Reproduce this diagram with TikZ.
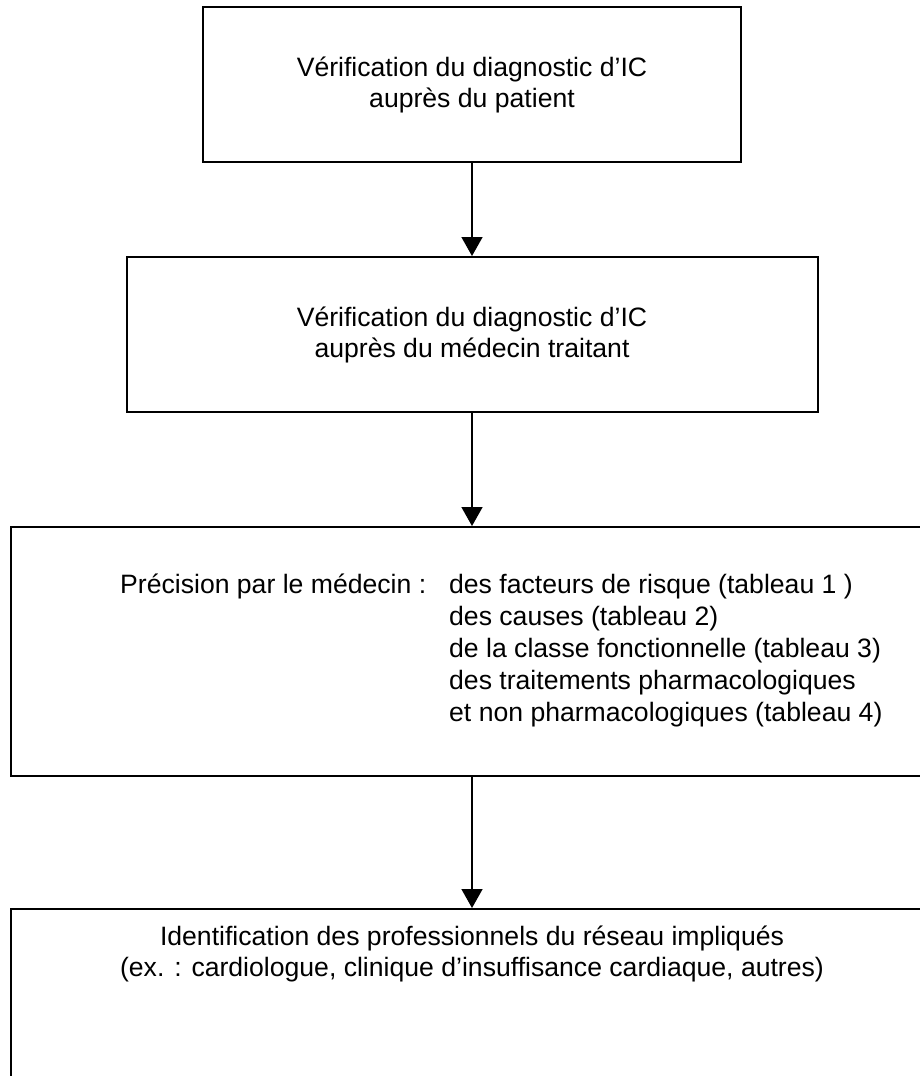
\documentclass[tikz,border=0pt]{standalone}
\usepackage{fontspec}
\setmainfont{Liberation Sans}
\usetikzlibrary{positioning}
\usetikzlibrary{arrows.meta}
\tikzstyle{textonly} = [draw=none, fill=none, inner sep=0pt]
\tikzstyle{stage} = [rectangle, draw, line width=2pt, align=center, text centered, inner sep=0pt]
\tikzstyle{flow} = [draw, line width=1.6pt, -{Triangle[width=21pt,length=19pt]}]

\begin{document}
\begin{tikzpicture}[x=1pt, y=-1pt, font=\fontsize{26.6}{31}\selectfont]
	\useasboundingbox (0,0) rectangle (919,1076);

	% place nodes
	\node [stage, minimum width=538pt, minimum height=155pt] (N1) at (472,84.5)
		{Vérification du diagnostic d’IC\\auprès du patient};
	\node [stage, below of=N1, node distance=250pt, minimum width=691pt, minimum height=155pt] (N2)
		{Vérification du diagnostic d’IC\\auprès du médecin traitant};
	\node [stage, below of=N2, node distance=317pt, minimum width=922pt, minimum height=249pt] (N3) {};
	\node [stage, below of=N3, node distance=357.5pt, minimum width=922pt, minimum height=200pt] (N4) {};

	% texts of the lower boxes
	\node [textonly, anchor=base west, font=\fontsize{26.6}{32}\selectfont] (T3) at (120,593) {\begin{tabular}[t]{@{}l@{}l@{}}
		\makebox[329pt][l]{Précision par le médecin :} & des facteurs de risque (tableau 1 )\\
		& des causes (tableau 2)\\
		& de la classe fonctionnelle (tableau 3)\\
		& des traitements pharmacologiques\\
		& et non pharmacologiques (tableau 4)
	\end{tabular}};
	\node [textonly, align=center, anchor=base] (T4) at (472,976)
		{Identification des professionnels du réseau impliqués\\(ex. : cardiologue, clinique d’insuffisance cardiaque, autres)};

	% draw edges
	\path [flow] (N1) -- (N2);
	\path [flow] (N2) -- (N3);
	\path [flow] (N3) -- (N4);
\end{tikzpicture}
\end{document}
